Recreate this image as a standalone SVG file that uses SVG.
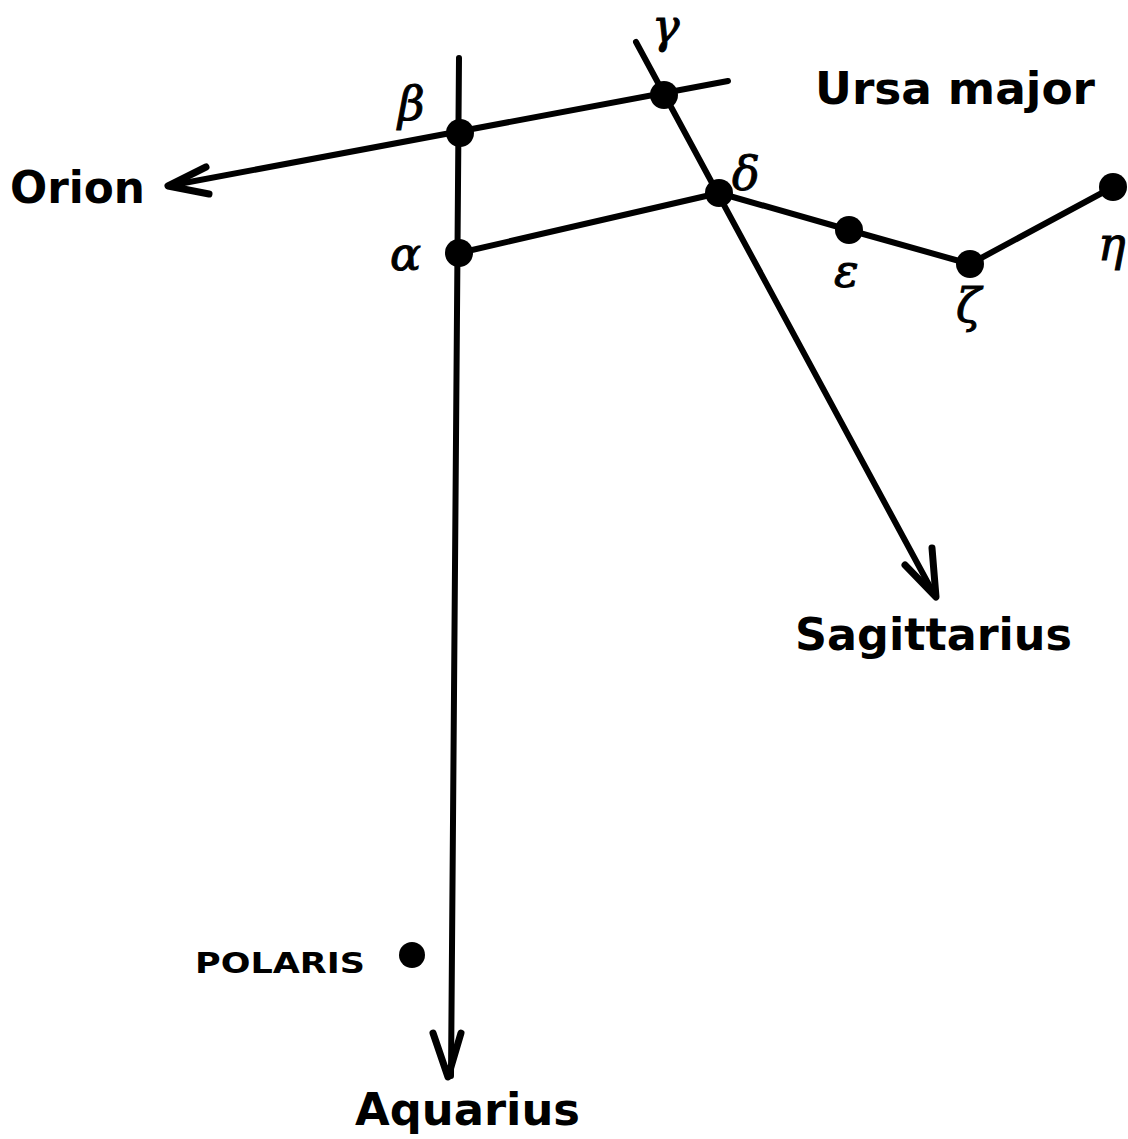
<svg xmlns="http://www.w3.org/2000/svg" width="1128" height="1139" viewBox="0 0 1128 1139">
<style>
.ln{stroke:#000;stroke-width:6;fill:none;stroke-linecap:round;stroke-linejoin:round}
.ah{stroke:#000;stroke-width:7;fill:none;stroke-linecap:round;stroke-linejoin:round}
.star{fill:#000}
.lab{font-family:"DejaVu Sans","Liberation Sans",sans-serif;font-weight:bold;fill:#000}
.gr{font-family:"DejaVu Serif","Liberation Serif",serif;font-style:italic;fill:#000;font-size:46px;stroke:#000;stroke-width:1}
</style>
<rect width="1128" height="1139" fill="#fff"/>
<g id="connectors">
<path class="ln" d="M459 58 L451 1076"/>
<path class="ln" d="M168 186 L728 81"/>
<path class="ln" d="M636 42 L935 596"/>
<path class="ln" d="M459 253 L719 193"/>
<path class="ln" d="M719 193 L849 230 L970 264 L1113 187"/>
<path class="ah" d="M206 167 L168 186 L209 194"/>
<path class="ah" d="M433 1033 L448 1077 L461 1033"/>
<path class="ah" d="M905 565 L936 597 L932 548"/>
</g>
<g id="beta"><circle class="star" cx="460" cy="133" r="14"/><text class="gr" x="398" y="120">β</text></g>
<g id="alpha"><circle class="star" cx="459" cy="253" r="14"/><text class="gr" x="390" y="270">α</text></g>
<g id="gamma"><circle class="star" cx="664" cy="95" r="14"/><text class="gr" x="652" y="42" font-size="42">γ</text></g>
<g id="delta"><circle class="star" cx="719" cy="193" r="14"/><text class="gr" x="732" y="190">δ</text></g>
<g id="epsilon"><circle class="star" cx="849" cy="230" r="14"/><text class="gr" x="834" y="287">ε</text></g>
<g id="zeta"><circle class="star" cx="970" cy="264" r="14"/><text class="gr" x="956" y="322">ζ</text></g>
<g id="eta"><circle class="star" cx="1113" cy="187" r="14"/><text class="gr" x="1098" y="260">η</text></g>
<g id="polaris"><circle class="star" cx="412" cy="955" r="13"/><text class="lab" x="195" y="973" font-size="28" textLength="170" lengthAdjust="spacingAndGlyphs">POLARIS</text></g>
<g id="orion"><text class="lab" x="10" y="203" font-size="45" textLength="135" lengthAdjust="spacingAndGlyphs">Orion</text></g>
<g id="ursa"><text class="lab" x="815" y="104" font-size="45" textLength="280" lengthAdjust="spacingAndGlyphs">Ursa major</text></g>
<g id="sagittarius"><text class="lab" x="795" y="650" font-size="45" textLength="277" lengthAdjust="spacingAndGlyphs">Sagittarius</text></g>
<g id="aquarius"><text class="lab" x="355" y="1125" font-size="45" textLength="225" lengthAdjust="spacingAndGlyphs">Aquarius</text></g>
</svg>
